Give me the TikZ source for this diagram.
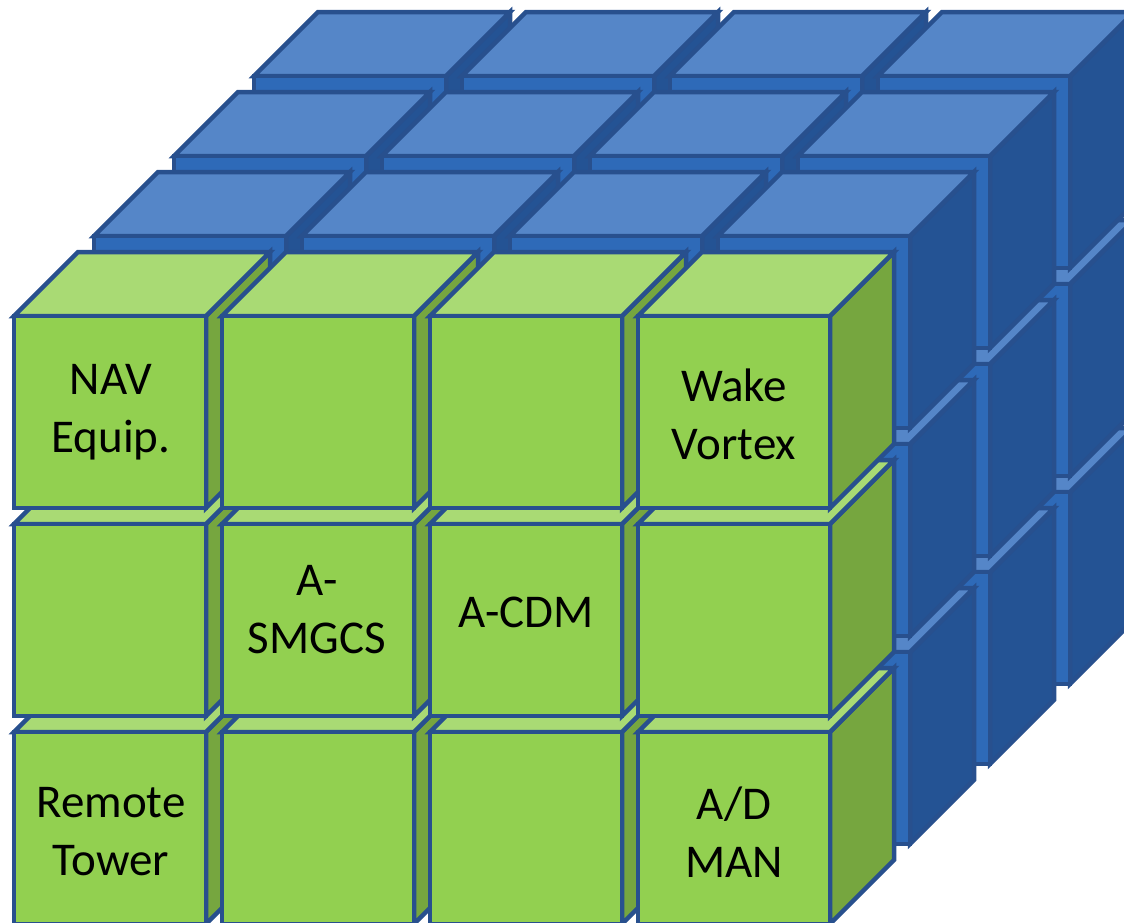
\documentclass[tikz,border=0pt]{standalone}
\usepackage{fontspec}
\setmainfont{Carlito}
\usepackage{xcolor}
\definecolor{edge-blue}{RGB}{40, 80, 142}
\definecolor{green-front}{RGB}{146, 208, 80}
\definecolor{green-top}{RGB}{169, 218, 116}
\definecolor{green-side}{RGB}{118, 166, 63}
\definecolor{blue-front}{RGB}{46, 106, 184}
\definecolor{blue-top}{RGB}{85, 134, 200}
\definecolor{blue-side}{RGB}{36, 83, 148}

% one cube: #1,#2 top left corner of the front face, #3 colour set
\newcommand{\gridcube}[3]{%
    \filldraw[fill=#3-side, draw=edge-blue] (#1+192, #2) -- ++(64, -64) -- ++(0, 192) -- ++(-64, 64) -- cycle;
    \filldraw[fill=#3-top, draw=edge-blue] (#1, #2) -- ++(64, -64) -- ++(192, 0) -- ++(-64, 64) -- cycle;
    \filldraw[fill=#3-front, draw=edge-blue] (#1, #2) rectangle ++(192, 192);
}

\begin{document}
\begin{tikzpicture}[x=1pt, y=-1pt, line width=4.5pt,
    celltext/.style={align=center, font=\fontsize{47}{58}\selectfont, text=black}]
    \useasboundingbox (0, 0) rectangle (1124, 922);
    \clip (0, 0) rectangle (1124, 922);
    % blue layers, back to front
    \foreach \k in {3, 2, 1}
        \foreach \r in {2, 1, 0}
            \foreach \c in {0, 1, 2, 3}
                \gridcube{14+80*\k+208*\c}{316-80*\k+208*\r}{blue};
    % green front layer
    \foreach \r in {2, 1, 0}
        \foreach \c in {0, 1, 2, 3}
            \gridcube{14+208*\c}{316+208*\r}{green};
    \node[celltext] (nav) at (111, 412) {NAV\\Equip.};
    \node[celltext] (wake) at (734, 414) {Wake\\Vortex};
    \node[celltext] (asmgcs) at (317, 610) {A-\\SMGCS};
    \node[celltext] (acdm) at (526, 612) {A-CDM};
    \node[celltext] (remote) at (111, 832) {Remote\\Tower};
    \node[celltext] (adman) at (734, 832) {A/D\\MAN};
\end{tikzpicture}
\end{document}
